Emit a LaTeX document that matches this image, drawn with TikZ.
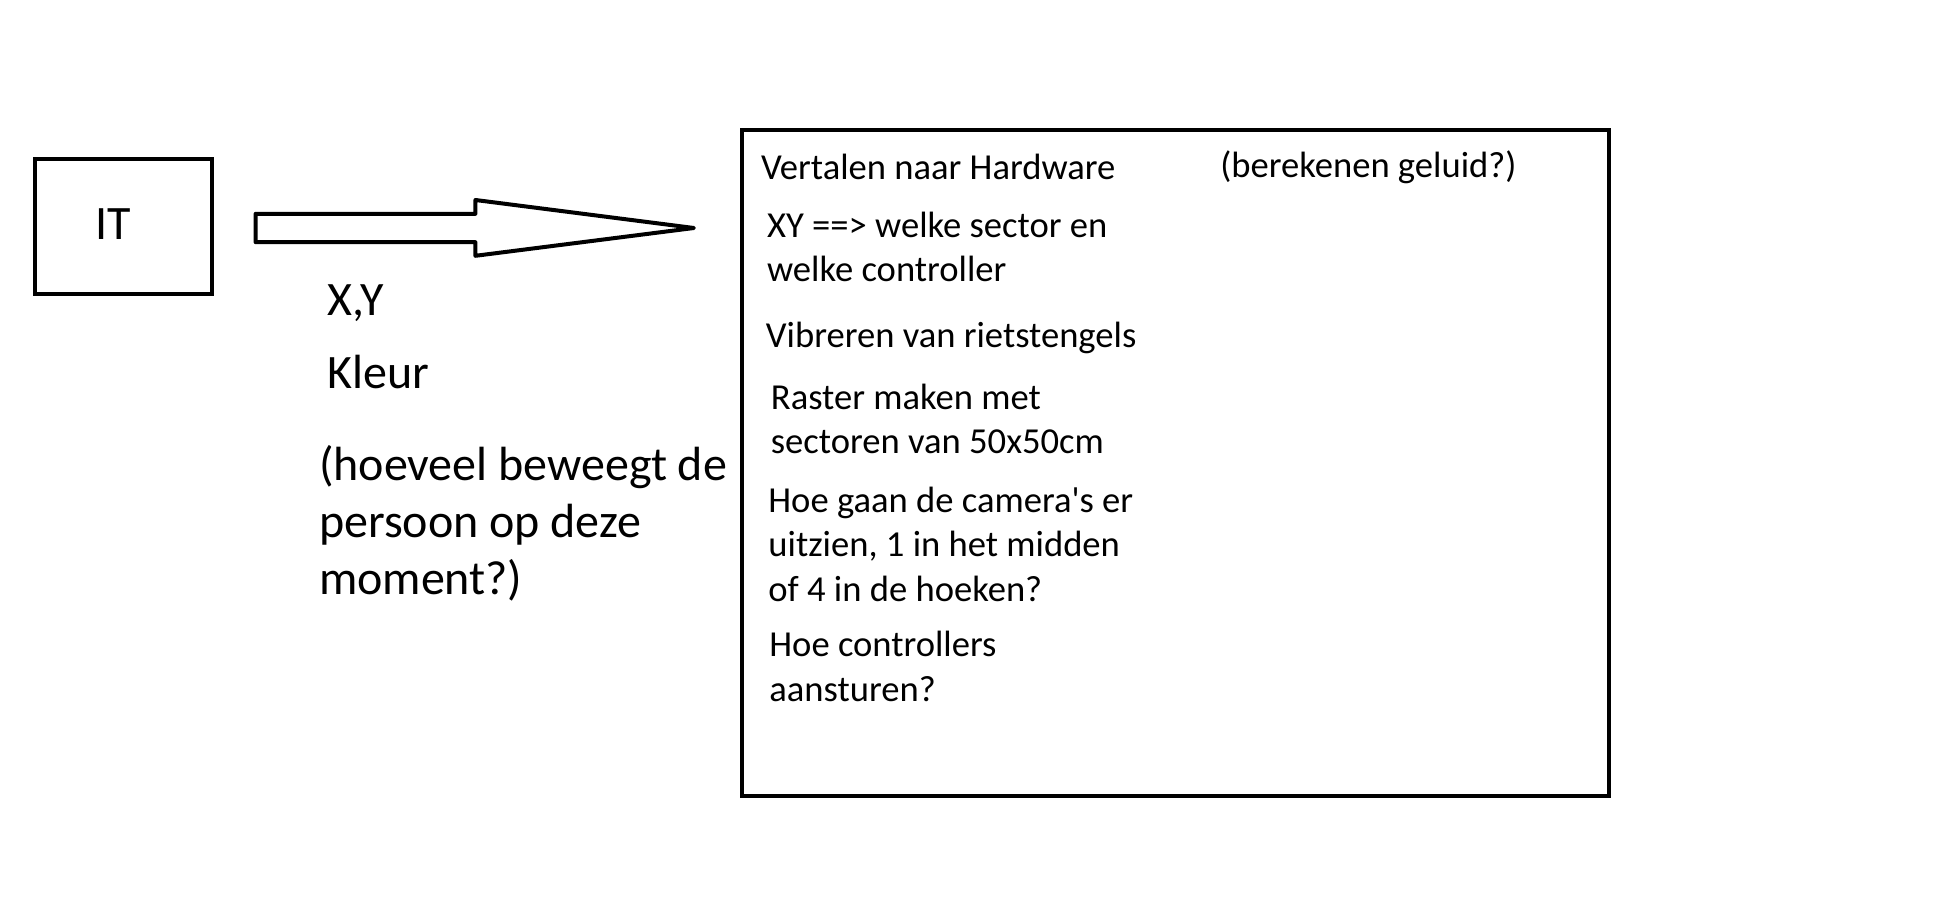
\documentclass[tikz,border=0pt]{standalone}
\usepackage{fontspec}
\setmainfont{Carlito}
\usetikzlibrary{positioning}

\begin{document}
\begin{tikzpicture}[x=0.5pt,y=-0.5pt]
    \tikzstyle{box}=[draw,line width=2pt,inner sep=0pt]
    \tikzstyle{note}=[font=\fontsize{24}{28.5}\selectfont,align=left,anchor=base west,inner sep=0pt]
    \tikzstyle{task}=[font=\fontsize{18.3}{22.2}\selectfont,align=left,anchor=base west,inner sep=0pt]
    \fill[white] (0,0) rectangle (1936,908);
    \useasboundingbox (0,0) rectangle (1936,908);
    % source
    \node[box,minimum width=88.9pt,minimum height=67.3pt] (it) at (123.5,226.6) {};
    \node[note] (itlabel) at (95,239.5) {IT};
    % block arrow
    \coordinate (tail) at (255.6,228);
    \coordinate (tip) at (693.9,228);
    \draw[line width=2pt,line join=round] (tail) ++(0,-14.2) -- (475.4,213.8) -- (475.4,200) -- (tip)
        -- (475.4,255.8) -- (475.4,242.2) -- (255.6,242.2) -- cycle;
    \node[note] (xy) at (327,316) {X,Y};
    \node[note] (kleur) at (327,389) {Kleur};
    \node[note] (beweging) at (318.6,594) {(hoeveel beweegt de\\persoon op deze\\moment?)};
    % hardware (last line of each block sets its place)
    \node[box,minimum width=433.4pt,minimum height=333.4pt] (hw) at (1175.4,463) {};
    \node[task] (vertalen) at (760.6,180) {Vertalen naar Hardware};
    \node[task] (geluid) at (1219.9,178) {(berekenen geluid?)};
    \node[task] (sector) at (766.7,282) {XY ==> welke sector en\\welke controller};
    \node[task] (riet) at (765.5,348) {Vibreren van rietstengels};
    \node[task] (raster) at (770.5,454) {Raster maken met\\sectoren van 50x50cm};
    \node[task] (camera) at (768,601) {Hoe gaan de camera\textquotesingle s er\\uitzien, 1 in het midden\\of 4 in de hoeken?};
    \node[task] (aansturen) at (769,701) {Hoe controllers\\aansturen?};
\end{tikzpicture}
\end{document}
